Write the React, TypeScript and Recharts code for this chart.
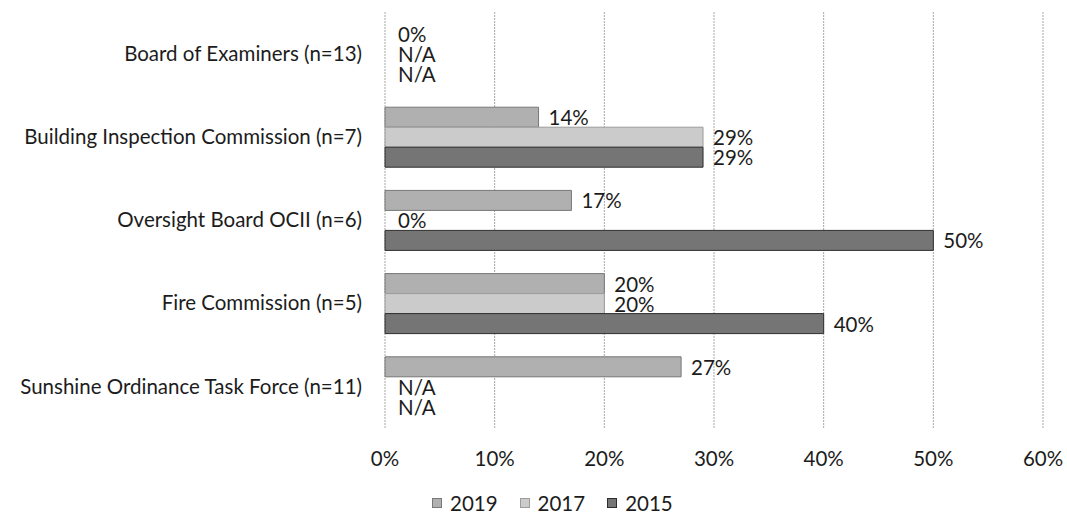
import { BarChart, Bar, XAxis, YAxis, CartesianGrid, Legend, LabelList, Rectangle } from 'recharts';

const categories = [
  'Board of Examiners (n=13)',
  'Building Inspection Commission (n=7)',
  'Oversight Board OCII (n=6)',
  'Fire Commission (n=5)',
  'Sunshine Ordinance Task Force (n=11)',
];

// null = N/A in the source
const values2019: (number | null)[] = [0, 14, 17, 20, 27];
const values2017: (number | null)[] = [null, 29, 0, 20, null];
const values2015: (number | null)[] = [null, 29, 50, 40, null];

const xTicks = [0, 10, 20, 30, 40, 50, 60];

const series = [
  { key: '2019', fill: '#b0b0b0', stroke: '#777777' },
  { key: '2017', fill: '#cbcbcb', stroke: '#9c9c9c' },
  { key: '2015', fill: '#757575', stroke: '#2e2e2e' },
];

const fmt = (v: number | null) => (v == null ? 'N/A' : `${v}%`);

const data = categories.map((name, i) => ({
  name,
  v2019: values2019[i] ?? 0,
  v2017: values2017[i] ?? 0,
  v2015: values2015[i] ?? 0,
  l2019: fmt(values2019[i]),
  l2017: fmt(values2017[i]),
  l2015: fmt(values2015[i]),
}));

const FONT = 'Lato, sans-serif';
const TEXT = '#1c1c1c';
const FS = 20.5;

// zero-width bars get a hairline so recharts keeps their label, the shape hides it
const tinyForZero = (v: any) => (v ? 0 : 0.01);
const BarShape = (props: any) => (props.width < 0.5 ? <g /> : <Rectangle {...props} />);

const BarLabel = (props: any) => {
  const { x, y, width, height, value } = props;
  const gap = width > 0.5 ? 10 : 13;
  return (
    <text
      x={x + width + gap}
      y={y + height / 2}
      dominantBaseline="central"
      fill={TEXT}
      fontSize={FS}
      fontFamily={FONT}
    >
      {value}
    </text>
  );
};

const LegendContent = () => (
  <div style={{ display: 'flex', paddingLeft: 432, fontFamily: FONT, fontSize: FS, color: TEXT }}>
    {series.map((s, i) => (
      <div key={s.key} style={{ display: 'flex', alignItems: 'center', marginLeft: i ? 22 : 0 }}>
        <span
          style={{
            display: 'inline-block',
            width: 10,
            height: 10,
            background: s.fill,
            border: `1px solid ${s.stroke}`,
            boxSizing: 'border-box',
            marginRight: 8,
          }}
        />
        <span>{s.key}</span>
      </div>
    ))}
  </div>
);

export default function App() {
  return (
    <div style={{ position: 'absolute', left: 0, top: 0, fontFamily: FONT, background: '#fff' }}>
      <BarChart
        width={1067}
        height={517}
        data={data}
        layout="vertical"
        margin={{ top: 12, right: 24, bottom: 49, left: 0 }}
        barSize={20}
        barGap={0}
      >
        <CartesianGrid horizontal={false} stroke="#a8a8a8" strokeDasharray="2 1" />
        <XAxis
          type="number"
          domain={[0, 60]}
          ticks={xTicks}
          tickFormatter={(v) => `${v}%`}
          axisLine={false}
          tickLine={false}
          tickSize={0}
          tickMargin={23}
          height={40}
          interval={0}
          tick={{ fill: TEXT, fontSize: FS, fontFamily: FONT }}
        />
        <YAxis
          type="category"
          dataKey="name"
          width={385}
          axisLine={false}
          tickLine={false}
          tickSize={0}
          tickMargin={23}
          interval={0}
          tick={{ fill: TEXT, fontSize: FS, fontFamily: FONT }}
        />
        <Legend
          layout="horizontal"
          align="center"
          verticalAlign="middle"
          wrapperStyle={{ top: 491, left: 0, width: 1067 }}
          content={<LegendContent />}
        />
        {series.map((s) => (
          <Bar
            key={s.key}
            dataKey={`v${s.key}`}
            name={s.key}
            fill={s.fill}
            stroke={s.stroke}
            strokeWidth={1}
            minPointSize={tinyForZero}
            shape={<BarShape />}
            isAnimationActive={false}
          >
            <LabelList dataKey={`l${s.key}`} content={<BarLabel />} />
          </Bar>
        ))}
      </BarChart>
    </div>
  );
}
